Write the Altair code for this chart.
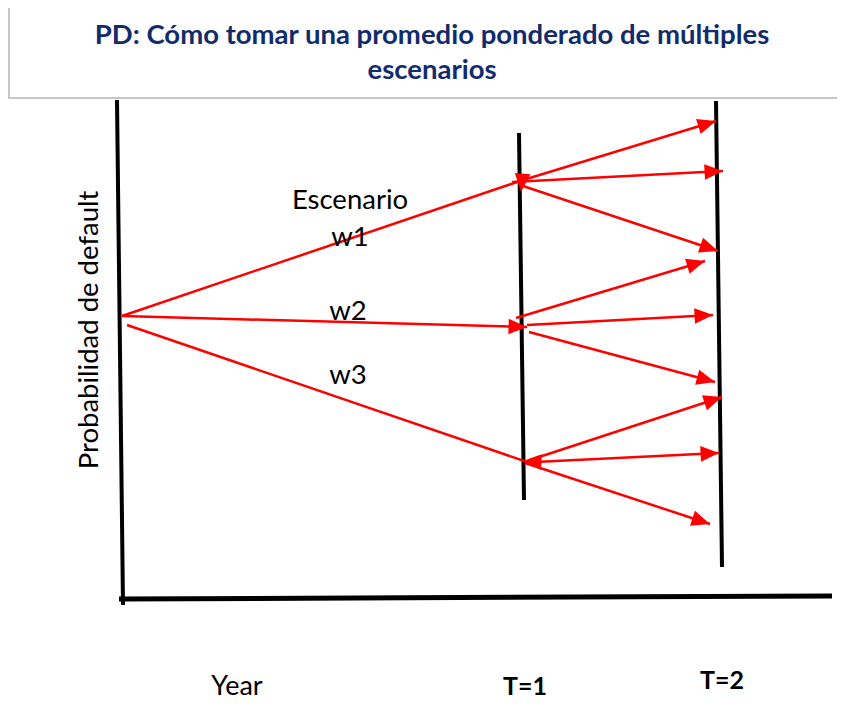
import math
import altair as alt
import pandas as pd

# Diagram coordinates (x to the right, y downward).
title_lines = ["PD: Cómo tomar una promedio ponderado de múltiples", "escenarios"]
title_x = [432, 432]
title_y = [36, 71]

# title box outline: top, bottom, left edges (the right edge runs off the page)
box_x1 = [9, 9, 9]
box_y1 = [6, 98, 6]
box_x2 = [837, 837, 9]
box_y2 = [6, 98, 98]

# black axes / time lines: left axis, bottom axis, T=1, T=2
axis_x1 = [117, 119, 519, 716]
axis_y1 = [100, 599, 133, 101]
axis_x2 = [123, 832, 524, 722]
axis_y2 = [605, 596, 500, 567]
axis_w = [4, 5, 4, 4]

# red scenario arrows (start -> tip)
arrow_x1 = [122, 122, 127, 520, 512, 523, 516, 527, 529, 530, 535, 525]
arrow_y1 = [316, 316, 325, 181, 182, 186, 318, 325, 332, 460, 462, 463]
arrow_x2 = [520, 527, 530, 716, 723, 718, 705, 713, 715, 722, 719, 710]
arrow_y2 = [181, 327, 463, 121, 171, 251, 261, 315, 382, 397, 453, 524]
arrow_head = [False, True, False, True, True, True, True, True, True, True, True, True]

# extra arrowheads sitting on the T=1 nodes
node_x = [521, 523]
node_y = [192, 461]
node_angle = [95, 183]

label_text = ["Escenario", "w1", "w2", "w3"]
label_x = [350, 350, 348, 348]
label_y = [201, 238, 312, 376]

ylab_text = ["Probabilidad de default"]
ylab_x = [90]
ylab_y = [330]

# bottom labels (y = text baseline)
xlab_text = ["Year", "T=1", "T=2"]
xlab_x = [237, 525, 722]
xlab_y = [695, 695, 689]
xlab_bold = [False, True, True]

X = lambda f: alt.X(f, type="quantitative", scale=alt.Scale(domain=[8, 837], nice=False, zero=False), axis=None)
Y = lambda f: alt.Y(f, type="quantitative", scale=alt.Scale(domain=[8, 700], nice=False, zero=False, reverse=True), axis=None)

box_df = pd.DataFrame({"x": box_x1, "y": box_y1, "x2": box_x2, "y2": box_y2})
box = alt.Chart(box_df).mark_rule(color="#c6c6c6", strokeWidth=2, strokeCap="square").encode(
    x=X("x"), x2="x2", y=Y("y"), y2="y2")

title_df = pd.DataFrame({"x": title_x, "y": title_y, "t": title_lines})
title = alt.Chart(title_df).mark_text(font="Lato", fontSize=27.5, fontWeight="bold", color="#112b6b",
                                      baseline="middle", align="center").encode(
    x=X("x"), y=Y("y"), text="t:N")

axis_df = pd.DataFrame({"x": axis_x1, "y": axis_y1, "x2": axis_x2, "y2": axis_y2, "w": axis_w})
axes = alt.Chart(axis_df).mark_rule(color="black", strokeCap="butt").encode(
    x=X("x"), y=Y("y"), x2="x2", y2="y2", strokeWidth=alt.StrokeWidth("w:Q", scale=None))

arr_df = pd.DataFrame({"x": arrow_x1, "y": arrow_y1, "x2": arrow_x2, "y2": arrow_y2, "head": arrow_head})
lines = alt.Chart(arr_df).mark_rule(color="#ff0000", strokeWidth=2.5).encode(
    x=X("x"), y=Y("y"), x2="x2", y2="y2")

head_rows = []
for x1, y1, x2, y2, h in zip(arrow_x1, arrow_y1, arrow_x2, arrow_y2, arrow_head):
    if h:
        head_rows.append({"x": x2, "y": y2, "a": math.degrees(math.atan2(y2 - y1, x2 - x1)) % 360})
for x, y, a in zip(node_x, node_y, node_angle):
    head_rows.append({"x": x, "y": y, "a": a % 360})
head_df = pd.DataFrame(head_rows)
heads = alt.Chart(head_df).mark_point(filled=True, shape="M0,0L-2,-0.85L-2,0.85Z", size=340,
                                      color="#ff0000", opacity=1, strokeWidth=0).encode(
    x=X("x"), y=Y("y"), angle=alt.Angle("a:Q", scale=None))

lab_df = pd.DataFrame({"x": label_x, "y": label_y, "t": label_text})
labels = alt.Chart(lab_df).mark_text(font="Lato", fontSize=27.5, color="black",
                                     baseline="middle", align="center").encode(
    x=X("x"), y=Y("y"), text="t:N")

ylab_df = pd.DataFrame({"x": ylab_x, "y": ylab_y, "t": ylab_text})
ylab = alt.Chart(ylab_df).mark_text(font="Lato", fontSize=27.5, color="black", angle=270,
                                    baseline="middle", align="center").encode(
    x=X("x"), y=Y("y"), text="t:N")

xl_df = pd.DataFrame({"x": xlab_x, "y": xlab_y, "t": xlab_text, "b": xlab_bold})
xl_reg = alt.Chart(xl_df).transform_filter("!datum.b").mark_text(
    font="Lato", fontSize=27, color="black", baseline="alphabetic", align="center").encode(
    x=X("x"), y=Y("y"), text="t:N")
xl_bold = alt.Chart(xl_df).transform_filter("datum.b").mark_text(
    font="Lato", fontSize=25, fontWeight="bold", color="black", baseline="alphabetic", align="center").encode(
    x=X("x"), y=Y("y"), text="t:N")

chart = alt.layer(box, title, axes, lines, heads, labels, ylab, xl_reg, xl_bold).properties(
    width=829, height=692, padding=0, autosize=alt.AutoSizeParams(type="none"), background="white"
).configure_view(stroke=None)

chart.save("out.html", embed_options={"renderer": "svg", "actions": False})
